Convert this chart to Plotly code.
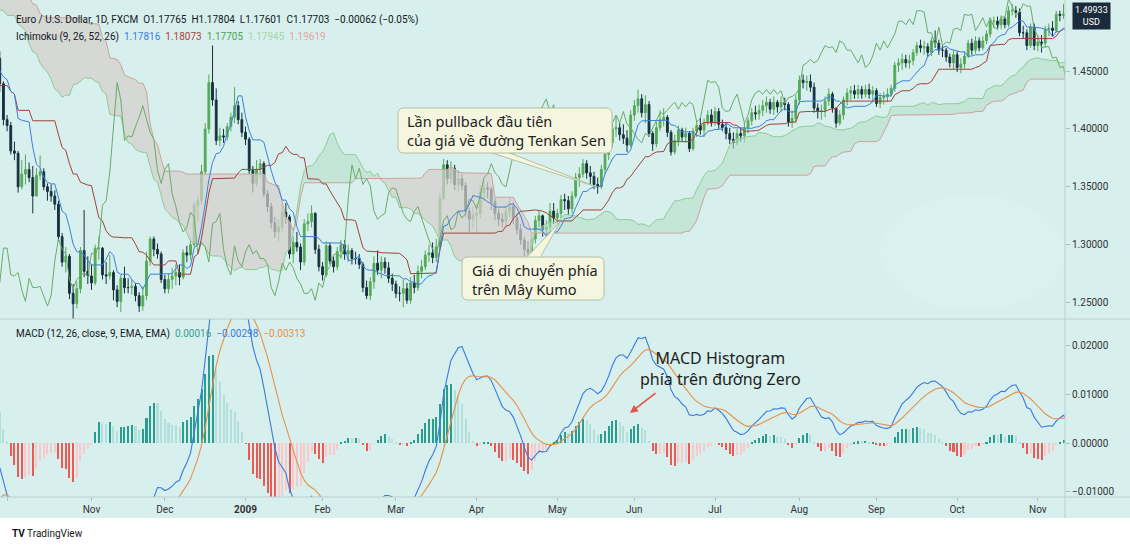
import numpy as np
import pandas as pd
import plotly.graph_objects as go

# ---------------- data (EUR/USD daily, FXCM) ----------------
first_open = 1.550
close = [
    # Jun 2008
    1.554,1.546,1.533,1.559,1.578, 1.569,1.546,1.554,1.538,1.539, 1.548,1.551,1.551,1.552,1.563, 1.555,1.560,1.561,1.579,1.578, 1.576,
    # Jul 2008
    1.580,1.586,1.570,1.569, 1.570,1.562,1.573,1.573,1.593, 1.592,1.593,1.590,1.585,1.585, 1.592,1.578,1.571,1.572,1.570, 1.574,1.559,1.556,1.560,
    # Aug 2008
    1.556, 1.556,1.546,1.547,1.537,1.501, 1.499,1.492,1.493,1.477,1.467, 1.472,1.478,1.472,1.488,1.476, 1.471,1.469,1.472,1.474,1.468,
    # Sep 2008
    1.451,1.455,1.448,1.428,1.428, 1.414,1.399,1.394,1.398,1.420, 1.428,1.414,1.431,1.435,1.445, 1.479,1.471,1.463,1.461,1.461, 1.439,1.408,
    # Oct 2008
    1.403,1.381,1.379, 1.350,1.361,1.365,1.358,1.342, 1.360,1.363,1.350,1.346,1.342, 1.335,1.307,1.285,1.290,1.258, 1.249,1.262,1.295,1.277,1.273,
    # Nov 2008
    1.267,1.297,1.297,1.274,1.273, 1.276,1.261,1.251,1.271,1.263, 1.263,1.264,1.256,1.247,1.256, 1.286,1.305,1.296,1.292,1.270,
    # Dec 2008
    1.262,1.270,1.273,1.276,1.272, 1.293,1.291,1.300,1.334,1.338, 1.363,1.400,1.440,1.425,1.390, 1.394,1.393,1.402,1.410, 1.420,1.408,1.397,
    # Jan 2009
    1.391, 1.364,1.353,1.365,1.370,1.344, 1.333,1.319,1.311,1.315,1.328, 1.324,1.292,1.302,1.298,1.285, 1.318,1.320,1.327,1.296,1.281,
    # Feb 2009
    1.274,1.299,1.286,1.281,1.294, 1.300,1.292,1.295,1.288,1.288, 1.283,1.263,1.256,1.268,1.284, 1.278,1.285,1.280,1.271,1.266,
    # Mar 2009
    1.258,1.258,1.262,1.252,1.267, 1.263,1.277,1.281,1.291,1.293, 1.289,1.298,1.340,1.369,1.357, 1.366,1.352,1.357,1.351,1.329, 1.322,1.325,
    # Apr 2009
    1.327,1.345,1.349, 1.348,1.337,1.327,1.322,1.320, 1.329,1.333,1.323,1.313,1.304, 1.296,1.293,1.305,1.321,1.325, 1.313,1.315,1.329,1.323,
    # May 2009
    1.327, 1.339,1.338,1.331,1.342,1.358, 1.361,1.370,1.362,1.359,1.352, 1.350,1.365,1.378,1.388,1.400, 1.401,1.395,1.392,1.386,1.412,
    # Jun 2009
    1.420,1.426,1.414,1.421,1.396, 1.387,1.401,1.408,1.410,1.397, 1.380,1.390,1.399,1.393,1.396, 1.383,1.398,1.403,1.399,1.405, 1.412,1.405,
    # Jul 2009
    1.415,1.404,1.401, 1.396,1.391,1.388,1.396,1.394, 1.401,1.407,1.414,1.413,1.416, 1.420,1.423,1.417,1.423,1.419, 1.423,1.421,1.406,1.409,1.425,
    # Aug 2009
    1.442,1.440,1.441,1.436,1.418, 1.415,1.416,1.424,1.430,1.418, 1.405,1.412,1.425,1.431,1.433, 1.430,1.434,1.430,1.434,1.430, 1.433,
    # Sep 2009
    1.422,1.427,1.428,1.430, 1.435,1.455,1.457,1.460,1.457, 1.459,1.466,1.472,1.470,1.471, 1.466,1.476,1.474,1.468,1.468, 1.462,1.457,1.464,
    # Oct 2009
    1.453,1.456, 1.463,1.474,1.468,1.476,1.470, 1.476,1.482,1.493,1.493,1.490, 1.495,1.490,1.502,1.502,1.501, 1.483,1.483,1.472,1.488,1.472,
    # Nov 2009
    1.475,1.474,1.486,1.487,1.485, 1.499,1.498,1.499,1.485,1.490, 1.496,1.488,1.496,1.488,1.486, 1.497,1.496,1.512,1.506,1.498, 1.501,
    # Dec 2009
    1.508,1.506,1.506,1.486, 1.480,1.470,1.471,1.471,1.461, 1.462,1.453,1.454,1.435,1.433,
]
high = [
    1.561,1.556,1.548,1.561,1.580, 1.578,1.570,1.558,1.556,1.546, 1.551,1.556,1.557,1.556,1.566, 1.565,1.563,1.569,1.580,1.583, 1.581,
    1.584,1.589,1.588,1.573, 1.575,1.572,1.576,1.580,1.594, 1.596,1.604,1.598,1.592,1.590, 1.594,1.593,1.580,1.577,1.578, 1.577,1.575,1.565,1.566,
    1.563, 1.561,1.558,1.551,1.552,1.538, 1.505,1.501,1.497,1.495,1.479, 1.476,1.481,1.480,1.492,1.490, 1.480,1.476,1.476,1.479,1.477,
    1.468,1.458,1.457,1.451,1.431, 1.433,1.417,1.404,1.401,1.424, 1.433,1.431,1.436,1.446,1.448, 1.484,1.487,1.473,1.470,1.468, 1.467,1.441,
    1.412,1.406,1.389, 1.381,1.373,1.378,1.371,1.368, 1.366,1.377,1.366,1.353,1.352, 1.347,1.338,1.310,1.298,1.292, 1.266,1.268,1.298,1.330,1.290,
    1.283,1.300,1.307,1.298,1.285, 1.291,1.278,1.265,1.274,1.281, 1.271,1.270,1.267,1.259,1.264, 1.294,1.307,1.307,1.301,1.294,
    1.274,1.275,1.280,1.283,1.283, 1.296,1.299,1.305,1.337,1.342, 1.369,1.405,1.447,1.472,1.435, 1.401,1.400,1.405,1.414, 1.436,1.424,1.414,
    1.402, 1.393,1.368,1.373,1.374,1.372, 1.347,1.336,1.324,1.322,1.334, 1.336,1.326,1.307,1.311,1.301, 1.322,1.327,1.334,1.328,1.300,
    1.285,1.303,1.302,1.290,1.298, 1.304,1.304,1.300,1.297,1.294, 1.292,1.285,1.269,1.272,1.290, 1.295,1.290,1.289,1.285,1.275,
    1.269,1.264,1.270,1.267,1.272, 1.274,1.282,1.287,1.295,1.300, 1.302,1.305,1.345,1.374,1.373, 1.372,1.369,1.364,1.361,1.354, 1.332,1.333,
    1.335,1.351,1.355, 1.354,1.350,1.340,1.331,1.327, 1.333,1.341,1.337,1.327,1.318, 1.307,1.303,1.309,1.325,1.329, 1.326,1.321,1.336,1.336,
    1.331, 1.343,1.344,1.342,1.346,1.362, 1.367,1.374,1.373,1.368,1.363, 1.358,1.369,1.382,1.391,1.404, 1.412,1.405,1.404,1.399,1.416,
    1.425,1.434,1.430,1.429,1.424, 1.398,1.406,1.416,1.418,1.412, 1.399,1.395,1.403,1.401,1.401, 1.398,1.401,1.407,1.410,1.409, 1.416,1.417,
    1.419,1.418,1.408, 1.405,1.401,1.397,1.400,1.401, 1.405,1.410,1.418,1.420,1.421, 1.425,1.428,1.426,1.428,1.425, 1.428,1.427,1.423,1.416,1.429,
    1.446,1.447,1.446,1.447,1.440, 1.422,1.421,1.428,1.435,1.432, 1.418,1.416,1.428,1.435,1.437, 1.438,1.438,1.437,1.438,1.439, 1.437,
    1.435,1.431,1.432,1.435, 1.438,1.458,1.461,1.465,1.464, 1.464,1.469,1.475,1.477,1.476, 1.474,1.479,1.485,1.477,1.472, 1.470,1.465,1.468,
    1.467,1.461, 1.467,1.477,1.478,1.480,1.479, 1.480,1.485,1.496,1.497,1.497, 1.498,1.497,1.506,1.508,1.506, 1.504,1.489,1.486,1.491,1.491,
    1.481,1.481,1.489,1.491,1.493, 1.502,1.502,1.508,1.500,1.494, 1.502,1.497,1.499,1.498,1.492, 1.501,1.500,1.514,1.514,1.509, 1.507,
    1.511,1.510,1.514,1.510, 1.489,1.483,1.476,1.477,1.474, 1.466,1.465,1.458,1.456,1.441,
]
low = [
    1.546,1.541,1.529,1.530,1.556, 1.563,1.544,1.542,1.535,1.534, 1.537,1.545,1.544,1.545,1.549, 1.553,1.551,1.557,1.558,1.575, 1.571,
    1.572,1.578,1.567,1.566, 1.564,1.556,1.560,1.568,1.572, 1.586,1.585,1.583,1.578,1.579, 1.583,1.572,1.563,1.566,1.566, 1.567,1.555,1.552,1.554,
    1.551, 1.550,1.542,1.541,1.530,1.500, 1.489,1.483,1.482,1.472,1.460, 1.463,1.469,1.468,1.470,1.471, 1.466,1.462,1.465,1.467,1.465,
    1.447,1.443,1.442,1.424,1.412, 1.410,1.395,1.390,1.388,1.397, 1.410,1.410,1.413,1.421,1.430, 1.443,1.466,1.460,1.456,1.452, 1.432,1.403,
    1.398,1.378,1.373, 1.345,1.348,1.352,1.354,1.327, 1.343,1.356,1.347,1.338,1.337, 1.330,1.303,1.281,1.276,1.253, 1.235,1.245,1.258,1.272,1.266,
    1.261,1.265,1.287,1.270,1.266, 1.270,1.252,1.246,1.242,1.258, 1.258,1.257,1.251,1.242,1.243, 1.252,1.282,1.290,1.288,1.267,
    1.258,1.258,1.262,1.265,1.265, 1.270,1.285,1.287,1.298,1.320, 1.335,1.360,1.396,1.420,1.386, 1.385,1.388,1.390,1.398, 1.405,1.404,1.393,
    1.386, 1.361,1.345,1.350,1.357,1.341, 1.328,1.314,1.306,1.303,1.311, 1.318,1.288,1.284,1.294,1.278, 1.282,1.312,1.315,1.292,1.277,
    1.269,1.272,1.283,1.276,1.278, 1.288,1.287,1.285,1.283,1.283, 1.279,1.259,1.253,1.252,1.262, 1.274,1.271,1.275,1.267,1.260,
    1.254,1.251,1.246,1.249,1.249, 1.258,1.260,1.271,1.278,1.285, 1.284,1.285,1.296,1.338,1.352, 1.353,1.347,1.346,1.347,1.324, 1.311,1.314,
    1.310,1.323,1.337, 1.340,1.330,1.321,1.316,1.315, 1.316,1.324,1.318,1.309,1.300, 1.290,1.286,1.289,1.301,1.315, 1.307,1.302,1.311,1.318,
    1.318, 1.323,1.330,1.326,1.327,1.340, 1.350,1.358,1.357,1.352,1.348, 1.344,1.348,1.361,1.373,1.384, 1.393,1.390,1.387,1.380,1.384,
    1.407,1.414,1.410,1.405,1.393, 1.381,1.384,1.398,1.402,1.393, 1.377,1.378,1.385,1.389,1.388, 1.380,1.381,1.393,1.395,1.393, 1.403,1.402,
    1.403,1.400,1.398, 1.391,1.387,1.383,1.386,1.389, 1.388,1.396,1.403,1.408,1.408, 1.411,1.414,1.413,1.412,1.414, 1.415,1.416,1.402,1.401,1.405,
    1.421,1.435,1.433,1.432,1.414, 1.409,1.408,1.410,1.420,1.414, 1.401,1.403,1.408,1.420,1.425, 1.426,1.426,1.426,1.427,1.426, 1.424,
    1.419,1.418,1.421,1.423, 1.428,1.432,1.449,1.451,1.453, 1.452,1.455,1.463,1.466,1.464, 1.462,1.463,1.470,1.464,1.462, 1.458,1.453,1.451,
    1.449,1.448, 1.452,1.461,1.464,1.465,1.467, 1.468,1.473,1.479,1.487,1.486, 1.486,1.487,1.488,1.498,1.496, 1.480,1.478,1.468,1.470,1.468,
    1.467,1.466,1.470,1.480,1.480, 1.483,1.493,1.495,1.482,1.482, 1.487,1.484,1.487,1.484,1.480, 1.485,1.490,1.494,1.499,1.484, 1.495,
    1.498,1.502,1.501,1.483, 1.476,1.466,1.464,1.467,1.458, 1.457,1.450,1.449,1.432,1.429,
]
data_start = "2008-06-02"
holidays = ["2008-12-25", "2009-01-01"]
view_start = "2008-10-01"
price_ticks = [1.25, 1.30, 1.35, 1.40, 1.45]
macd_ticks = [-0.01, 0.0, 0.01, 0.02]

header_line1 = "Euro / U.S. Dollar, 1D, FXCM\u00a0\u00a0O1.17765\u00a0\u00a0H1.17804\u00a0\u00a0L1.17601\u00a0\u00a0C1.17703\u00a0\u00a0\u22120.00062 (\u22120.05%)"
ichi_label = "Ichimoku (9, 26, 52, 26)"
ichi_values = ["1.17816", "1.18073", "1.17705", "1.17945", "1.19619"]
macd_label = "MACD (12, 26, close, 9, EMA, EMA)"
macd_values = ["0.00016", "\u22120.00298", "\u22120.00313"]
last_price = "1.49933"

# ---------------- colours ----------------
BG = "#d7efed"
UP = "#55a957"
DN = "#17313f"
C_TENKAN = "#3b7fe0"
C_KIJUN = "#a2423c"
C_CHIKOU = "#6cab6a"
C_SPANA = "#8fcc95"
C_SPANB = "#cda29d"
F_BULL = "rgba(178,222,198,0.55)"
F_BEAR = "rgba(212,206,204,0.72)"
H_UP, H_UPF, H_DN, H_DNR = "#2a9d8f", "#b2dfdb", "#ec5a55", "#f8c8cb"
C_MACD = "#3b7be0"
C_SIG = "#e8914a"
TXT = "#131722"

# ---------------- calc ----------------
n = len(close)
bd = pd.bdate_range(data_start, periods=n + 10)
bd = bd[~bd.isin(pd.to_datetime(holidays))][:n]
x0 = int(np.searchsorted(bd, pd.Timestamp(view_start)))
xs = np.arange(n) - x0

c = pd.Series(close, dtype=float)
o = pd.Series([first_open] + close[:-1], dtype=float)
h = pd.Series(np.maximum(np.array(high), np.maximum(o, c)))
l = pd.Series(np.minimum(np.array(low), np.minimum(o, c)))

def donchian(k):
    return (h.rolling(k).max() + l.rolling(k).min()) / 2

tenkan = donchian(9)
kijun = donchian(26)
spanA = (tenkan + kijun) / 2
spanB = donchian(52)
disp = 26 - 1
x_lead = xs + disp
x_lag = xs - disp

ema12 = c.ewm(span=12, adjust=False).mean()
ema26 = c.ewm(span=26, adjust=False).mean()
macd = ema12 - ema26
signal = macd.ewm(span=9, adjust=False).mean()
hist = macd - signal
hv = hist.values
hcol = []
for i in range(n):
    prev = hv[i - 1] if i > 0 else hv[i]
    if hv[i] >= 0:
        hcol.append(H_UP if hv[i] > prev else H_UPF)
    else:
        hcol.append(H_DN if hv[i] < prev else H_DNR)

# month ticks
per = bd.to_period("M")
first_idx = [i for i in range(n) if i == 0 or per[i] != per[i - 1]]
tickvals = [int(xs[i]) for i in first_idx]
ticktext = [("<b>%d</b>" % bd[i].year) if bd[i].month == 1 else bd[i].strftime("%b") for i in first_idx]

# ---------------- geometry ----------------
W, H = 1130, 552
PW, PH = 1065, 497
SEP = 319
XR = [-1.936, 288.4]
def fx(p): return p / PW
def fy(p): return (PH - p) / PH

fig = go.Figure()

# cloud segments
A = spanA.values; B = spanB.values
valid = np.where(~np.isnan(A) & ~np.isnan(B))[0]
segs = []
cur = None; sx = []; sa = []; sb = []
for k in valid:
    s = A[k] >= B[k]
    if cur is not None and s != cur:
        d0 = A[k - 1] - B[k - 1]; d1 = A[k] - B[k]
        t = d0 / (d0 - d1)
        xc = x_lead[k - 1] + t
        yc = A[k - 1] + t * (A[k] - A[k - 1])
        sx.append(xc); sa.append(yc); sb.append(yc)
        segs.append((cur, sx, sa, sb))
        sx = [xc]; sa = [yc]; sb = [yc]
    cur = s
    sx.append(x_lead[k]); sa.append(A[k]); sb.append(B[k])
segs.append((cur, sx, sa, sb))
for bull, sx, sa, sb in segs:
    fig.add_trace(go.Scatter(x=list(sx) + list(sx)[::-1], y=list(sa) + list(sb)[::-1],
                             fill="toself", fillcolor=F_BULL if bull else F_BEAR,
                             line=dict(width=0), mode="lines", hoverinfo="skip",
                             xaxis="x", yaxis="y"))
fig.add_trace(go.Scatter(x=x_lead, y=spanA, mode="lines", line=dict(color=C_SPANA, width=1), xaxis="x", yaxis="y"))
fig.add_trace(go.Scatter(x=x_lead, y=spanB, mode="lines", line=dict(color=C_SPANB, width=1), xaxis="x", yaxis="y"))

fig.add_trace(go.Candlestick(x=xs, open=o, high=h, low=l, close=c,
                             increasing=dict(line=dict(color=UP, width=1), fillcolor=UP),
                             decreasing=dict(line=dict(color=DN, width=1), fillcolor=DN),
                             whiskerwidth=0, xaxis="x", yaxis="y", hoverinfo="skip"))
fig.add_trace(go.Scatter(x=x_lag, y=c, mode="lines", line=dict(color=C_CHIKOU, width=1), xaxis="x", yaxis="y"))
fig.add_trace(go.Scatter(x=xs, y=kijun, mode="lines", line=dict(color=C_KIJUN, width=1), xaxis="x", yaxis="y"))
fig.add_trace(go.Scatter(x=xs, y=tenkan, mode="lines", line=dict(color=C_TENKAN, width=1), xaxis="x", yaxis="y"))

# MACD pane
fig.add_trace(go.Bar(x=xs, y=hist, marker=dict(color=hcol, line=dict(width=0)), width=0.55,
                     xaxis="x2", yaxis="y2"))
fig.add_trace(go.Scatter(x=xs, y=macd, mode="lines", line=dict(color=C_MACD, width=1.1), xaxis="x2", yaxis="y2"))
fig.add_trace(go.Scatter(x=xs, y=signal, mode="lines", line=dict(color=C_SIG, width=1.1), xaxis="x2", yaxis="y2"))

# ---------------- shapes ----------------
def P(a, b): return "%.5f,%.5f" % (fx(a), fy(b))
def rrect(x0_, y0_, x1_, y1_, r):
    return ("M " + P(x0_ + r, y0_) + " L " + P(x1_ - r, y0_) + " Q " + P(x1_, y0_) + " " + P(x1_, y0_ + r) +
            " L " + P(x1_, y1_ - r) + " Q " + P(x1_, y1_) + " " + P(x1_ - r, y1_) +
            " L " + P(x0_ + r, y1_) + " Q " + P(x0_, y1_) + " " + P(x0_, y1_ - r) +
            " L " + P(x0_, y0_ + r) + " Q " + P(x0_, y0_) + " " + P(x0_ + r, y0_) + " Z")

BOX_FILL = "#f5f6df"
BOX_LINE = "#b4bfa3"
LINE_C = "#b9d0cf"
shapes = [
    dict(type="rect", xref="paper", yref="paper", x0=fx(-5), x1=fx(1135), y0=fy(518), y1=fy(560),
         fillcolor="white", line=dict(width=0), layer="below"),
    dict(type="circle", xref="paper", yref="paper", x0=fx(880), x1=fx(1065), y0=fy(310), y1=fy(195),
         fillcolor="rgba(255,255,255,0.12)", line=dict(width=0), layer="below"),
    dict(type="line", xref="paper", yref="paper", x0=0, x1=fx(1130), y0=fy(SEP), y1=fy(SEP), line=dict(color=LINE_C, width=1)),
    dict(type="line", xref="paper", yref="paper", x0=0, x1=fx(1130), y0=fy(PH), y1=fy(PH), line=dict(color=LINE_C, width=1)),
    dict(type="line", xref="paper", yref="paper", x0=fx(PW), x1=fx(PW), y0=fy(0), y1=fy(518), line=dict(color=LINE_C, width=1)),
    # callout tails
    dict(type="path", xref="paper", yref="paper", path="M " + P(489, 152) + " L " + P(597, 187) + " L " + P(507, 152) + " Z",
         fillcolor=BOX_FILL, line=dict(color=BOX_LINE, width=1)),
    dict(type="path", xref="paper", yref="paper", path="M " + P(526, 258) + " L " + P(560, 222) + " L " + P(540, 258) + " Z",
         fillcolor=BOX_FILL, line=dict(color=BOX_LINE, width=1)),
    dict(type="path", xref="paper", yref="paper", path=rrect(398, 108, 612, 153, 6),
         fillcolor=BOX_FILL, line=dict(color=BOX_LINE, width=1)),
    dict(type="path", xref="paper", yref="paper", path=rrect(462, 257, 604, 300, 6),
         fillcolor=BOX_FILL, line=dict(color=BOX_LINE, width=1)),
]

FONT = "Roboto, Noto Sans, sans-serif"
def span(t, col): return '<span style="color:%s">%s</span>' % (col, t)
nb = "\u00a0\u00a0"
ichi_cols = [C_TENKAN, "#b0413b", "#4fa352", "#a9d6ab", "#e3a6a3"]
line2 = ichi_label + nb + nb.join(span(v, cc) for v, cc in zip(ichi_values, ichi_cols))
macd_cols = ["#3a9e8c", C_MACD, C_SIG]
line3 = macd_label + nb + nb.join(span(v, cc) for v, cc in zip(macd_values, macd_cols))

ann = [
    dict(x=fx(14), y=fy(20), text=header_line1, xanchor="left", yanchor="middle"),
    dict(x=fx(14), y=fy(37), text=line2, xanchor="left", yanchor="middle"),
    dict(x=fx(14), y=fy(334), text=line3, xanchor="left", yanchor="middle"),
]
for a in ann:
    a.update(xref="paper", yref="paper", showarrow=False, font=dict(family=FONT, size=10, color=TXT))

ann += [
    dict(xref="paper", yref="paper", x=fx(1091), y=fy(16), text=last_price + "<br>USD", showarrow=False,
         xanchor="center", yanchor="middle", bgcolor="#1b2b3b", borderpad=2,
         font=dict(family=FONT, size=9, color="white")),
    dict(xref="paper", yref="paper", x=fx(405), y=fy(130.5), text="Lần pullback đầu tiên<br>của giá về đường Tenkan Sen",
         showarrow=False, xanchor="left", yanchor="middle", align="left",
         font=dict(family="Noto Sans, sans-serif", size=14.5, color="#222222")),
    dict(xref="paper", yref="paper", x=fx(470), y=fy(279), text="Giá di chuyển phía<br>trên Mây Kumo",
         showarrow=False, xanchor="left", yanchor="middle", align="left",
         font=dict(family="Noto Sans, sans-serif", size=14.5, color="#222222")),
    dict(xref="paper", yref="paper", x=fx(720), y=fy(368), text="MACD Histogram<br>phía trên đường Zero",
         showarrow=False, xanchor="center", yanchor="middle", align="center",
         font=dict(family="Noto Sans, sans-serif", size=16, color="#1e1e1e")),
    dict(xref="paper", yref="paper", x=fx(630), y=fy(413), ax=27, ay=-21, text="", showarrow=True,
         arrowhead=2, arrowsize=1, arrowwidth=1.6, arrowcolor="#e5524c"),
    dict(xref="paper", yref="paper", x=fx(10), y=fy(533), text="<b>TV</b> TradingView", showarrow=False,
         xanchor="left", yanchor="middle", font=dict(family=FONT, size=10, color="#131722")),
]

axis_font = dict(family=FONT, size=10, color="#333333")
p_top = 1.45 + (71 - 0) / 57.9 * 0.05
p_bot = 1.45 - (SEP - 71) / 57.9 * 0.05
m_top = 0.02 + (345.7 - SEP) / 48.67 * 0.01
m_bot = 0.0 - (PH - 443.0) / 48.67 * 0.01

fig.update_layout(
    width=W, height=H, margin=dict(l=0, r=W - PW, t=0, b=H - PH),
    paper_bgcolor=BG, plot_bgcolor=BG, showlegend=False, bargap=0,
    xaxis=dict(domain=[0, 1], range=XR, showticklabels=False, showgrid=False, zeroline=False,
               rangeslider=dict(visible=False), anchor="y", ticks=""),
    xaxis2=dict(domain=[0, 1], range=XR, tickvals=tickvals, ticktext=ticktext, tickfont=axis_font,
                ticks="outside", ticklen=3, tickcolor="#a9c2c1", showgrid=False, zeroline=False, anchor="y2"),
    yaxis=dict(domain=[fy(SEP), 1], range=[p_bot, p_top], side="right", tickvals=price_ticks, tickformat=".5f",
               ticks="outside", ticklen=4, tickcolor="#a9c2c1", tickfont=axis_font, showgrid=False, zeroline=False,
               anchor="x"),
    yaxis2=dict(domain=[0, fy(SEP)], range=[m_bot, m_top], side="right", tickvals=macd_ticks, tickformat=".5f",
                ticks="outside", ticklen=4, tickcolor="#a9c2c1", tickfont=axis_font, showgrid=False, zeroline=False,
                anchor="x2"),
    shapes=shapes, annotations=ann,
)

fig.write_html("out.html")
